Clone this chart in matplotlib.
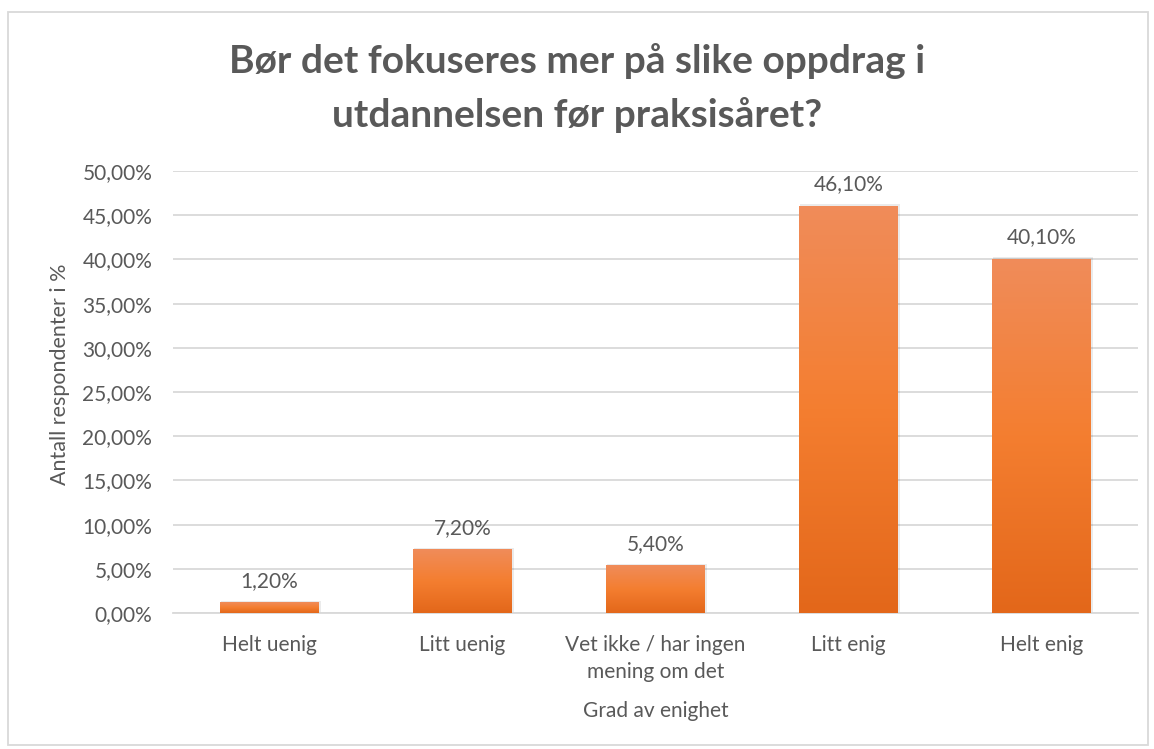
import numpy as np
import matplotlib
matplotlib.use("Agg")
import matplotlib.pyplot as plt
from matplotlib.colors import LinearSegmentedColormap
from matplotlib.patches import Rectangle
from matplotlib.ticker import FuncFormatter, MultipleLocator

categories = ["Helt uenig", "Litt uenig", "Vet ikke / har ingen\nmening om det", "Litt enig", "Helt enig"]
values = [1.2, 7.2, 5.4, 46.1, 40.1]
title = "Bør det fokuseres mer på slike oppdrag i\nutdannelsen før praksisåret?"
ylabel = "Antall respondenter i %"
xlabel = "Grad av enighet"

plt.rcParams['font.family'] = ['Lato', 'DejaVu Sans']
txt = "#595959"
fs = 15

fig = plt.figure(figsize=(11.54, 7.49), dpi=100)
ax = fig.add_axes([0.150, 0.1816, 0.836, 0.590])

x = np.arange(len(categories))
w = 0.51
bars = ax.bar(x, values, width=w, color="none", zorder=3)
cmap = LinearSegmentedColormap.from_list("g", ["#E3671A", "#F47E30", "#F08C5A"])
grad = np.linspace(0, 1, 256).reshape(-1, 1)
for b in bars:
    x0, y0 = b.get_x(), b.get_y()
    bw, bh = b.get_width(), b.get_height()
    sh = Rectangle((x0 + 0.004, y0), bw + 0.006, bh + 0.15, facecolor="#000000", alpha=0.08,
                   edgecolor="none", zorder=2)
    ax.add_patch(sh)
    im = ax.imshow(grad, cmap=cmap, aspect="auto", origin="lower",
                   extent=[x0, x0 + bw, y0, y0 + bh], zorder=3, interpolation="bicubic")
    im.set_clip_path(b)

for xi, v in zip(x, values):
    ax.annotate(f"{v:.2f}".replace(".", ",") + "%", (xi, v), xytext=(0, 8),
                textcoords="offset points", ha="center", va="bottom", fontsize=fs, color=txt)

ax.set_xlim(-0.5, len(categories) - 0.5)
ax.set_ylim(0, 50)
ax.yaxis.set_major_locator(MultipleLocator(5))
ax.yaxis.set_major_formatter(FuncFormatter(lambda v, p: f"{v:.2f}".replace(".", ",") + "%"))
ax.set_xticks(x)
ax.set_xticklabels(categories, fontsize=fs, color=txt, linespacing=1.45)
ax.tick_params(axis="y", labelsize=fs, labelcolor=txt, length=0, pad=15)
ax.tick_params(axis="x", length=0, pad=16)
ax.grid(axis="y", color="#D9D9D9", linewidth=1.3, zorder=0)
ax.set_axisbelow(True)
for s in ["top", "right", "left"]:
    ax.spines[s].set_visible(False)
ax.spines["bottom"].set_color("#D9D9D9")
ax.spines["bottom"].set_linewidth(1.3)

ax.set_ylabel(ylabel, fontsize=15.5, color=txt)
ax.yaxis.set_label_coords(60 / 1154, 0.5, transform=fig.transFigure)
ax.set_xlabel(xlabel, fontsize=fs, color=txt)
ax.xaxis.set_label_coords(0.150 + 0.836 / 2, 1 - 711 / 749, transform=fig.transFigure)
ax.xaxis.label.set_va("center")
ax.yaxis.label.set_va("center")

fig.text(0.5, 1 - 88 / 749, title, ha="center", va="center", fontsize=28, fontweight="bold",
         color=txt, linespacing=1.6)

fig.patches.append(Rectangle((0.007, 0.005), 0.988, 0.979, transform=fig.transFigure,
                             fill=False, edgecolor="#D9D9D9", linewidth=1.3))

fig.savefig("out.png", dpi=100)
